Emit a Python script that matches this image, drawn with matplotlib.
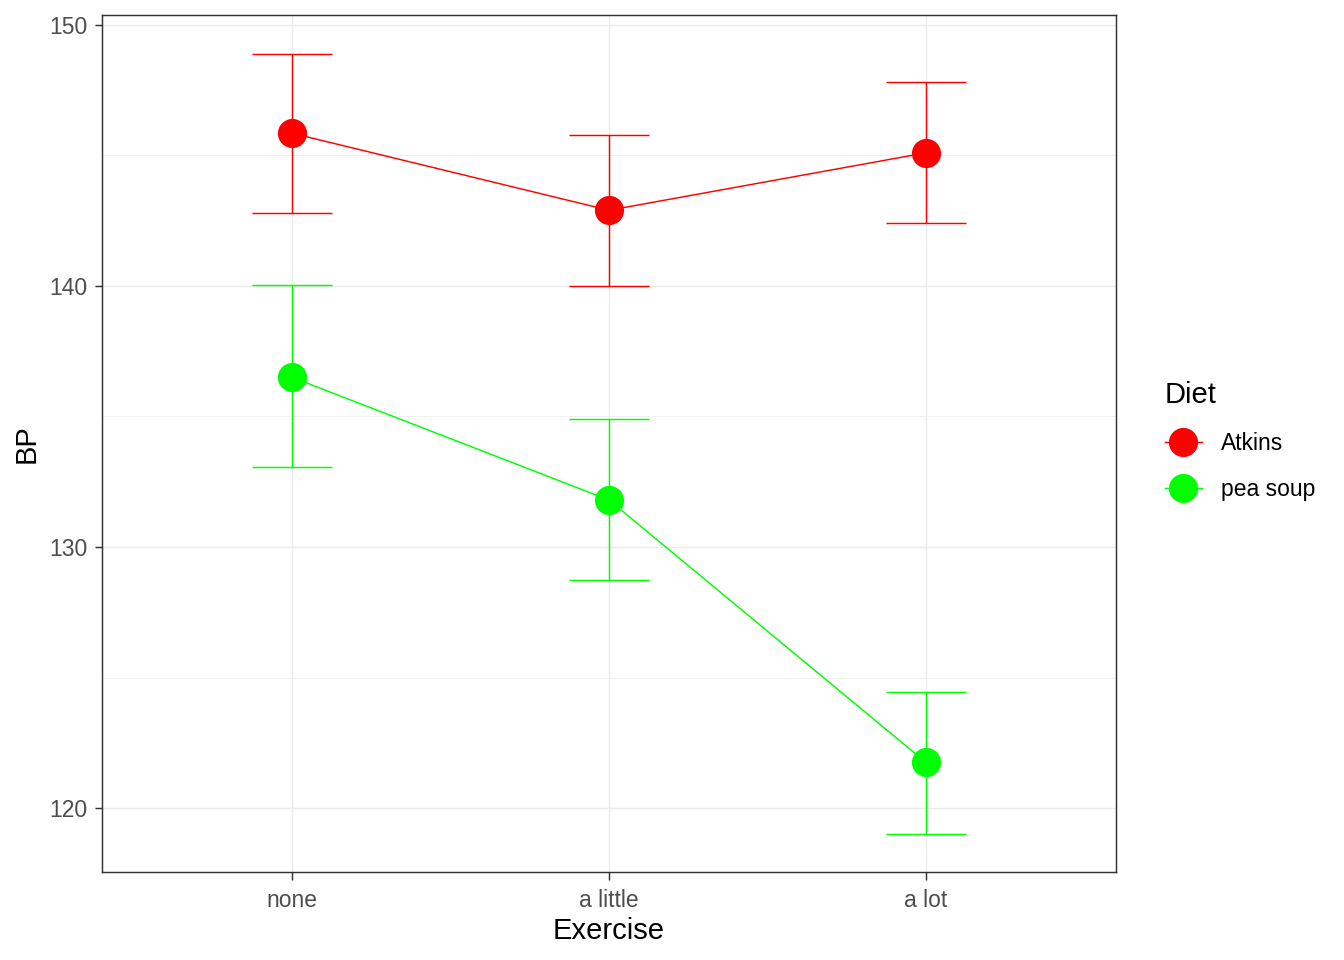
import numpy as np
import matplotlib
matplotlib.use('Agg')
import matplotlib.pyplot as plt
from matplotlib.lines import Line2D
from matplotlib.ticker import MultipleLocator

plt.rcParams['font.family'] = ['Liberation Sans', 'DejaVu Sans']

# Data
exercise = ['none', 'a little', 'a lot']
diets = ['Atkins', 'pea soup']
atkins_mean = [145.85, 142.9, 145.1]
atkins_low = [142.8, 140.0, 142.4]
atkins_high = [148.9, 145.8, 147.8]
pea_mean = [136.5, 131.8, 121.75]
pea_low = [133.05, 128.75, 119.0]
pea_high = [140.05, 134.9, 124.45]
colors = ['#FF0000', '#00FF00']

W, H = 1344, 960
fig = plt.figure(figsize=(W / 100, H / 100), dpi=100)
ax = fig.add_axes([102 / W, 1 - 872 / H, (1116 - 102) / W, (872 - 15) / H])

x = np.arange(1, len(exercise) + 1)
series = [(atkins_mean, atkins_low, atkins_high),
          (pea_mean, pea_low, pea_high)]
handles = []
for (mean, low, high), col, name in zip(series, colors, diets):
    mean = np.array(mean)
    yerr = [mean - np.array(low), np.array(high) - mean]
    ax.errorbar(x, mean, yerr=yerr, fmt='none', ecolor=col,
                elinewidth=1.05, capsize=28.5, capthick=1.05, zorder=3)
    ax.plot(x, mean, color=col, lw=1.05, zorder=4)
    ax.plot(x, mean, 'o', color=col, ms=21, mec='none', zorder=5)
    handles.append(Line2D([], [], color=col, lw=1.05, marker='o', ms=21,
                          mec='none', label=name))

ax.set_xlim(0.4, 3.6)
ax.set_ylim(117.55, 150.38)
ax.set_xticks(x)
ax.set_xticklabels(exercise)
ax.yaxis.set_major_locator(MultipleLocator(10))
ax.yaxis.set_minor_locator(MultipleLocator(5))

ax.grid(which='major', color='#EBEBEB', lw=1.05, zorder=0)
ax.grid(which='minor', axis='y', color='#EBEBEB', lw=0.55, zorder=0)
ax.set_axisbelow(True)
ax.tick_params(which='minor', length=0)
ax.tick_params(which='major', length=5.4, width=1.05, color='#333333',
               labelsize=16.5, labelcolor='#4D4D4D')
ax.tick_params(axis='x', pad=6.5)
ax.tick_params(axis='y', pad=5)
for s in ax.spines.values():
    s.set_color('#333333')
    s.set_linewidth(1.05)

ax.set_xlabel('Exercise', fontsize=21, labelpad=4)
ax.set_ylabel('BP', fontsize=21, labelpad=6)

leg = fig.legend(handles=handles, title='Diet', loc='upper left',
                 bbox_to_anchor=(1165 / W, 1 - 381 / H), frameon=False,
                 fontsize=16.5, title_fontsize=21, handlelength=1.6,
                 handletextpad=0.83, labelspacing=1.0, borderaxespad=0,
                 borderpad=0)
leg._legend_box.align = 'left'

fig.savefig('out.png', dpi=100)
